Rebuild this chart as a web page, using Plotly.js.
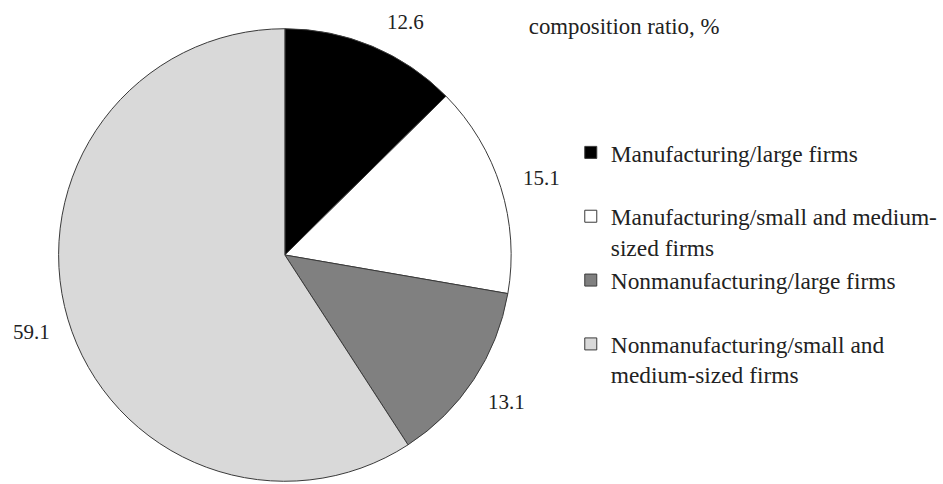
<!DOCTYPE html>
<html>
<head>
<meta charset="utf-8">
<script src="https://cdn.plot.ly/plotly-3.0.1.min.js"></script>
<style>html,body{margin:0;padding:0;background:#fff;}#chart{width:943px;height:484px;}</style>
</head>
<body>
<div id="chart"></div>
<script>
var categories = [
  "Manufacturing/large firms<br>\u00a0",
  "Manufacturing/small and medium-<br>sized firms",
  "Nonmanufacturing/large firms<br>\u00a0",
  "Nonmanufacturing/small and<br>medium-sized firms"
];
var values = [12.6, 15.1, 13.1, 59.1];
var valueLabels = ["12.6", "15.1", "13.1", "59.1"];
var colors = ["#000000", "#ffffff", "#808080", "#d9d9d9"];
var titleText = "composition ratio, %";

// value-label anchor positions (paper fractions)
var labelX = [0.4327, 0.579, 0.5408, 0.0339];
var labelY = [0.9545, 0.632, 0.1694, 0.314];

var FONT = "Liberation Serif, Times New Roman, serif";

var annotations = valueLabels.map(function (t, i) {
  return {
    text: t, x: labelX[i], y: labelY[i], xref: "paper", yref: "paper",
    xanchor: "center", yanchor: "middle", showarrow: false,
    font: {family: FONT, size: 21, color: "#222"}
  };
});

var trace = {
  type: "pie",
  labels: categories,
  values: values,
  sort: false,
  direction: "clockwise",
  rotation: 0,
  textinfo: "none",
  marker: {colors: colors, line: {color: "#3a3a3a", width: 1}},
  domain: {x: [0.0626, 0.5461], y: [0.0021, 0.9442]}
};

var layout = {
  width: 943, height: 484,
  margin: {l: 0, r: 0, t: 0, b: 0},
  paper_bgcolor: "#ffffff",
  showlegend: true,
  title: {text: titleText, x: 0.565, xanchor: "left", xref: "paper",
          y: 0.946, yanchor: "middle", yref: "paper",
          font: {family: FONT, size: 22.8, color: "#222"}},
  legend: {x: 0.6098, xanchor: "left", y: 0.730, yanchor: "top",
           valign: "top", traceorder: "normal",
           font: {family: FONT, size: 23.4, color: "#222"},
           bgcolor: "rgba(0,0,0,0)"},
  annotations: annotations
};

Plotly.newPlot("chart", [trace], layout, {displayModeBar: false, staticPlot: true});
</script>
</body>
</html>
